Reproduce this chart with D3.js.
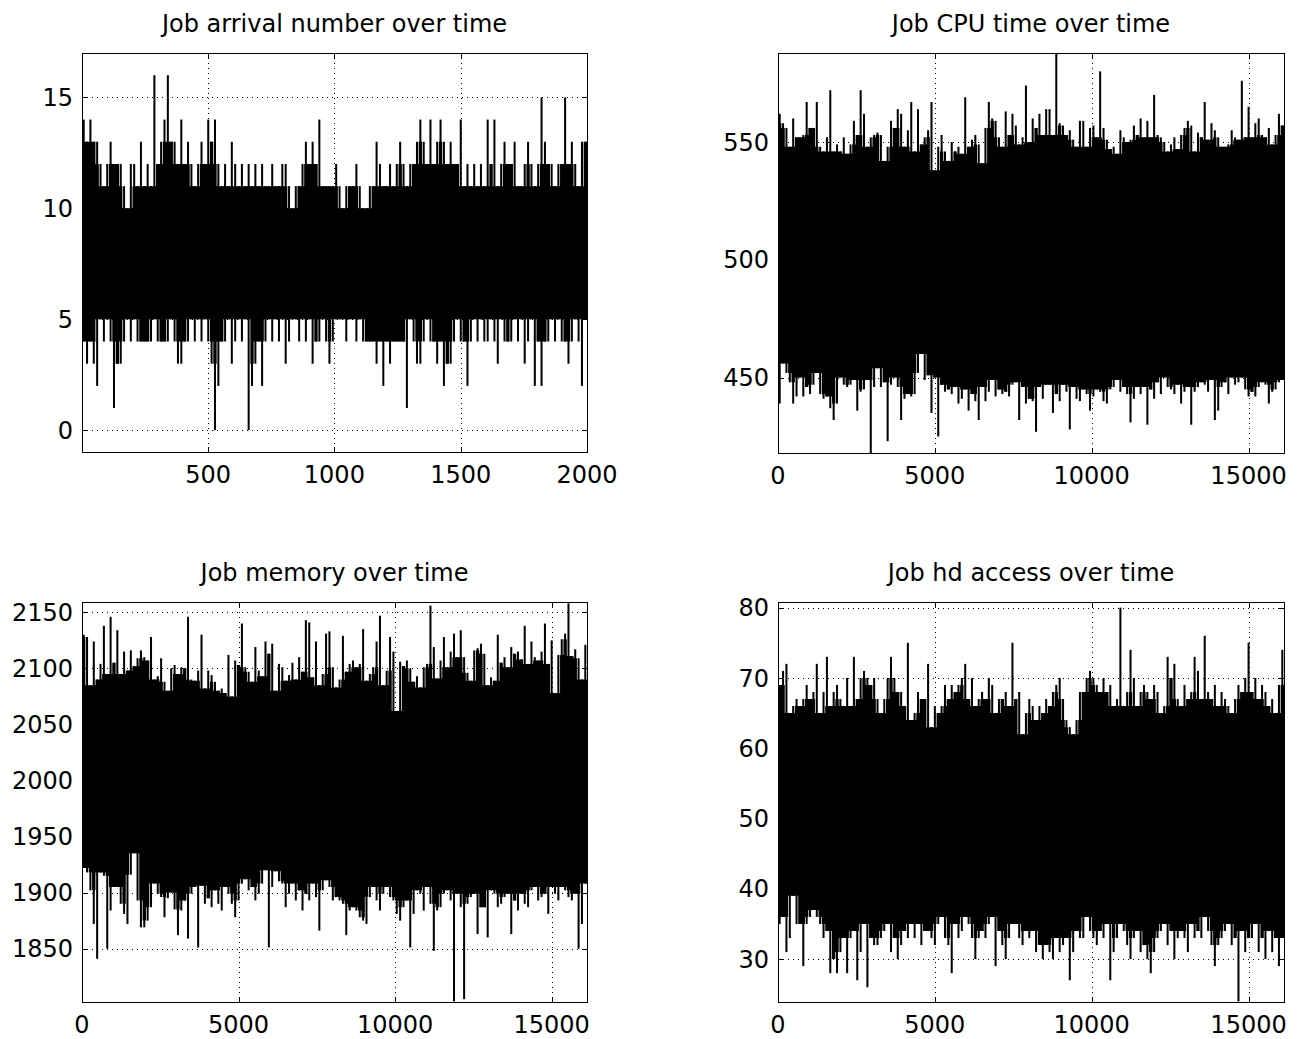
<!DOCTYPE html>
<html>
<head>
<meta charset="utf-8">
<script src="https://cdnjs.cloudflare.com/ajax/libs/d3/7.8.5/d3.min.js"></script>
<style>
body { margin: 0; background: #fff; }
svg { display: block; }
text { font-family: "DejaVu Sans", sans-serif; font-size: 24px; fill: #000; }
</style>
</head>
<body>
<svg width="1297" height="1039"></svg>
<script>

var arrivalHi = [14,13,14,13,13,12,11,12,13,12, 12,12,11,10,12,12,11,13,11,12, 11,16,12,13,14,16,13,13,12,14,
  12,13,12,11,12,13,12,14,13,14, 12,11,12,11,13,12,11,12,11,12, 11,12,11,12,11,11,12,11,11,12,
  12,11,10,11,11,12,13,12,13,12, 14,11,11,11,11,12,11,10,11,11, 11,12,11,10,10,11,11,13,12,11,
  11,12,11,12,13,12,11,12,12,13, 14,13,12,14,12,13,14,13,12,13, 12,12,14,11,12,11,12,11,12,11,
  14,12,14,11,12,13,12,12,13,11, 11,12,13,12,11,12,15,13,12,12, 11,12,12,15,12,13,12,11,13,13];
var arrivalLo = [4,3,4,3,2,5,4,5,4,1, 3,3,4,5,4,5,4,4,4,4, 4,5,4,4,4,4,5,4,3,3,
  4,4,5,4,5,4,5,4,3,0, 2,4,4,5,3,4,5,4,5,0, 2,3,4,2,4,5,4,5,4,5,
  3,4,5,5,4,5,4,5,3,4, 4,5,4,3,4,5,5,5,4,5, 5,4,5,4,4,4,4,3,4,2,
  4,3,4,4,4,4,1,5,4,3, 3,4,5,4,4,3,4,2,3,3, 4,5,4,4,2,4,5,4,5,4,
  4,5,4,3,5,4,4,4,5,4, 5,3,4,5,2,4,2,4,4,5, 4,5,4,4,3,4,5,4,2,5];

var cpuHi = [562,558,556,548,560,552,552,553,567,556, 556,567,548,546,552,572,546,549,546,552,
  545,549,559,553,572,562,548,552,553,554, 553,542,548,559,556,564,562,548,555,567,
  546,564,549,552,555,567,538,548,553,546, 542,550,546,548,545,569,548,551,553,549,
  541,556,567,560,559,552,548,563,553,562, 557,549,552,574,550,560,556,562,553,564,
  564,553,588,558,557,553,555,551,548,559, 559,548,556,557,552,580,556,551,547,548,
  545,555,552,550,551,557,553,560,552,559, 552,570,553,552,550,546,549,552,547,553,
  556,559,557,546,554,552,567,551,558,555, 552,548,548,549,555,552,551,576,552,565,
  552,558,560,553,552,556,549,553,562,557];
var cpuLo = [439,456,452,448,439,442,450,442,446,443, 447,452,443,441,442,437,432,439,450,447,
  446,447,449,436,444,445,449,418,446,454, 446,448,423,447,450,446,432,441,443,442,
  443,452,460,449,451,435,450,425,447,444, 445,443,446,439,441,445,436,443,440,432,
  446,440,444,449,442,445,443,444,442,447, 448,432,446,439,441,440,427,446,441,447,
  447,435,443,440,447,444,428,446,441,440, 445,443,436,442,445,444,440,439,445,446,
  449,444,446,443,431,441,446,443,446,430, 445,441,448,443,450,446,445,443,447,439,
  444,446,430,444,446,448,447,444,449,432, 436,446,448,443,450,447,448,450,445,442,
  444,442,446,448,447,439,444,445,448,449];

var memHi = [2130,2128,2085,2124,2090,2104,2138,2095,2146,2105, 2134,2095,2115,2098,2116,2102,2109,2116,2110,2107,
  2128,2090,2093,2109,2088,2080,2100,2103,2095,2101, 2100,2146,2090,2089,2098,2130,2082,2098,2094,2088,
  2080,2082,2078,2112,2075,2107,2103,2140,2101,2097, 2088,2119,2098,2093,2124,2113,2122,2080,2104,2101,
  2089,2094,2105,2090,2110,2097,2143,2141,2092,2124, 2085,2095,2131,2133,2101,2083,2090,2129,2097,2104,
  2107,2101,2104,2135,2089,2095,2101,2124,2147,2085, 2098,2128,2115,2062,2106,2102,2107,2100,2088,2093,
  2083,2101,2104,2156,2119,2091,2107,2128,2101,2115, 2131,2110,2134,2110,2096,2089,2116,2118,2122,2113,
  2085,2092,2089,2130,2105,2110,2101,2119,2113,2115, 2108,2138,2104,2124,2110,2107,2115,2140,2104,2125,
  2078,2112,2126,2131,2158,2111,2117,2109,2090,2121];
var memLo = [1922,1918,1902,1872,1841,1918,1915,1850,1884,1905, 1905,1890,1881,1872,1916,1935,1893,1869,1869,1875,
  1887,1908,1899,1896,1878,1895,1900,1885,1862,1884, 1893,1859,1899,1905,1851,1906,1890,1895,1887,1902,
  1890,1884,1905,1899,1890,1878,1893,1908,1912,1902, 1905,1893,1899,1908,1920,1851,1905,1919,1910,1908,
  1887,1899,1908,1893,1902,1884,1899,1893,1908,1896, 1866,1902,1911,1905,1893,1896,1893,1890,1862,1884,
  1887,1884,1878,1875,1872,1896,1905,1893,1884,1899, 1905,1896,1893,1881,1875,1887,1893,1851,1881,1902,
  1899,1884,1905,1890,1848,1884,1887,1899,1902,1893, 1803,1899,1887,1805,1890,1896,1899,1863,1887,1887,
  1860,1902,1899,1887,1890,1896,1899,1863,1893,1884, 1899,1890,1887,1902,1905,1893,1896,1899,1881,1905,
  1899,1893,1905,1902,1896,1893,1899,1850,1872,1908];

var hdHi = [69,71,72,65,66,67,66,67,69,67, 68,72,65,68,73,66,68,69,67,66, 70,66,73,67,70,71,70,69,70,67,
  65,67,70,73,70,68,68,66,75,64, 65,68,67,67,72,63,66,65,66,69, 67,69,68,69,70,72,67,70,66,67,
  68,67,70,69,65,67,67,68,66,75, 67,68,62,65,67,66,64,66,65,67, 66,68,69,70,67,64,63,62,64,68,
  68,70,71,70,69,68,70,68,69,66, 67,80,66,68,74,70,66,68,69,68, 67,69,68,65,66,73,70,72,67,66,
  69,67,68,73,71,67,76,68,67,69, 66,68,67,66,65,67,69,68,70,75, 68,70,67,69,68,66,67,65,69,74];
var hdLo = [35,36,31,33,39,35,35,29,35,36, 37,36,35,33,34,28,30,28,31,33, 28,33,34,27,31,35,26,33,32,32,
  33,34,35,31,33,30,32,34,33,35, 33,35,32,34,34,33,32,35,36,33, 32,28,35,33,34,36,35,33,30,33,
  34,33,35,36,29,34,32,30,33,35, 35,33,32,34,33,34,31,32,30,32, 31,30,33,31,32,33,27,31,34,33,
  33,36,34,33,32,34,33,35,27,31, 33,35,34,32,30,33,34,31,32,30, 28,31,33,34,35,32,34,30,33,34,
  33,31,35,33,34,33,36,34,32,29, 32,33,34,35,32,33,24,34,31,33, 33,35,31,33,30,34,31,33,29,33];

// tick values
var arrivalXTicks = [500, 1000, 1500, 2000];
var arrivalYTicks = [0, 5, 10, 15];
var timeXTicks = [0, 5000, 10000, 15000];
var cpuYTicks = [450, 500, 550];
var memYTicks = [1850, 1900, 1950, 2000, 2050, 2100, 2150];
var hdYTicks = [30, 40, 50, 60, 70, 80];

var titles = ["Job arrival number over time", "Job CPU time over time", "Job memory over time", "Job hd access over time"];

var svg = d3.select("svg");

var panels = [
  {title: titles[0], hi: arrivalHi, lo: arrivalLo, xDomain: [1, 2000], yDomain: [-0.98, 17],
   xTicks: arrivalXTicks, yTicks: arrivalYTicks, left: 82, top: 53, width: 505, height: 399},
  {title: titles[1], hi: cpuHi, lo: cpuLo, xDomain: [0, 16130], yDomain: [418, 587.8],
   xTicks: timeXTicks, yTicks: cpuYTicks, left: 778, top: 53, width: 506, height: 400},
  {title: titles[2], hi: memHi, lo: memLo, xDomain: [0, 16130], yDomain: [1802.4, 2159.2],
   xTicks: timeXTicks, yTicks: memYTicks, left: 82, top: 602, width: 505, height: 400},
  {title: titles[3], hi: hdHi, lo: hdLo, xDomain: [0, 16130], yDomain: [23.9, 80.8],
   xTicks: timeXTicks, yTicks: hdYTicks, left: 778, top: 602, width: 506, height: 400}
];

panels.forEach(function(p, k) {
  var g = svg.append("g").attr("transform", "translate(" + p.left + "," + p.top + ")");

  var x = d3.scaleLinear().domain(p.xDomain).range([0, p.width]);
  var y = d3.scaleLinear().domain(p.yDomain).range([p.height, 0]);

  var n = p.hi.length,
      step = (p.xDomain[1] - p.xDomain[0]) / n;

  var bins = p.hi.map(function(h, i) {
    var a = Math.max(0, i - 1), b = Math.min(n, i + 2);
    return {
      t0: p.xDomain[0] + i * step,
      t: p.xDomain[0] + (i + 0.5) * step,
      hi: h,
      lo: p.lo[i],
      // dense part: what the neighbouring slices share
      top: d3.min(p.hi.slice(a, b)),
      bottom: d3.max(p.lo.slice(a, b))
    };
  });

  // dotted grid
  g.append("g").selectAll("line")
    .data(p.xTicks).enter().append("line")
    .attr("x1", function(d) { return Math.round(x(d)) + 0.5; })
    .attr("x2", function(d) { return Math.round(x(d)) + 0.5; })
    .attr("y1", 0).attr("y2", p.height)
    .attr("stroke", "#000").attr("stroke-width", 1)
    .attr("stroke-dasharray", "1,4");

  g.append("g").selectAll("line")
    .data(p.yTicks).enter().append("line")
    .attr("x1", 0).attr("x2", p.width)
    .attr("y1", function(d) { return Math.round(y(d)) + 0.5; })
    .attr("y2", function(d) { return Math.round(y(d)) + 0.5; })
    .attr("stroke", "#000").attr("stroke-width", 1)
    .attr("stroke-dasharray", "1,4");

  svg.append("clipPath").attr("id", "clip" + k)
    .append("rect").attr("width", p.width).attr("height", p.height);

  var plot = g.append("g").attr("clip-path", "url(#clip" + k + ")");

  var area = d3.area()
    .curve(d3.curveStepAfter)
    .x(function(d) { return x(d.t0); })
    .y0(function(d) { return y(d.bottom); })
    .y1(function(d) { return y(d.top); });

  plot.append("path")
    .datum(bins.concat([{t0: p.xDomain[1], top: bins[n - 1].top, bottom: bins[n - 1].bottom}]))
    .attr("fill", "#000")
    .attr("d", area);

  // one thin column per slice, from its lowest to its highest value
  var bw = (x(p.xDomain[0] + step) - x(p.xDomain[0])) * 0.6;
  plot.append("g").selectAll("rect")
    .data(bins).enter().append("rect")
    .attr("x", function(d) { return x(d.t) - bw / 2; })
    .attr("width", bw)
    .attr("y", function(d) { return y(d.hi); })
    .attr("height", function(d) { return y(d.lo) - y(d.hi); })
    .attr("fill", "#000");

  // box
  g.append("rect")
    .attr("x", 0.5).attr("y", 0.5)
    .attr("width", p.width).attr("height", p.height)
    .attr("fill", "none").attr("stroke", "#000").attr("stroke-width", 1);

  // inward ticks on all four sides
  var tl = 5;
  p.xTicks.forEach(function(d) {
    var xx = Math.round(x(d)) + 0.5;
    g.append("line").attr("x1", xx).attr("x2", xx).attr("y1", p.height).attr("y2", p.height - tl).attr("stroke", "#000");
    g.append("line").attr("x1", xx).attr("x2", xx).attr("y1", 0).attr("y2", tl).attr("stroke", "#000");
  });
  p.yTicks.forEach(function(d) {
    var yy = Math.round(y(d)) + 0.5;
    g.append("line").attr("x1", 0).attr("x2", tl).attr("y1", yy).attr("y2", yy).attr("stroke", "#000");
    g.append("line").attr("x1", p.width - tl).attr("x2", p.width).attr("y1", yy).attr("y2", yy).attr("stroke", "#000");
  });

  // tick labels
  g.append("g").selectAll("text")
    .data(p.xTicks).enter().append("text")
    .attr("x", function(d) { return x(d); })
    .attr("y", p.height + 31)
    .attr("text-anchor", "middle")
    .text(function(d) { return d; });

  g.append("g").selectAll("text")
    .data(p.yTicks).enter().append("text")
    .attr("x", -9)
    .attr("y", function(d) { return y(d); })
    .attr("dy", "0.36em")
    .attr("text-anchor", "end")
    .text(function(d) { return d; });

  // title
  g.append("text")
    .attr("x", p.width / 2)
    .attr("y", -21)
    .attr("text-anchor", "middle")
    .text(p.title);
});
</script>
</body>
</html>
